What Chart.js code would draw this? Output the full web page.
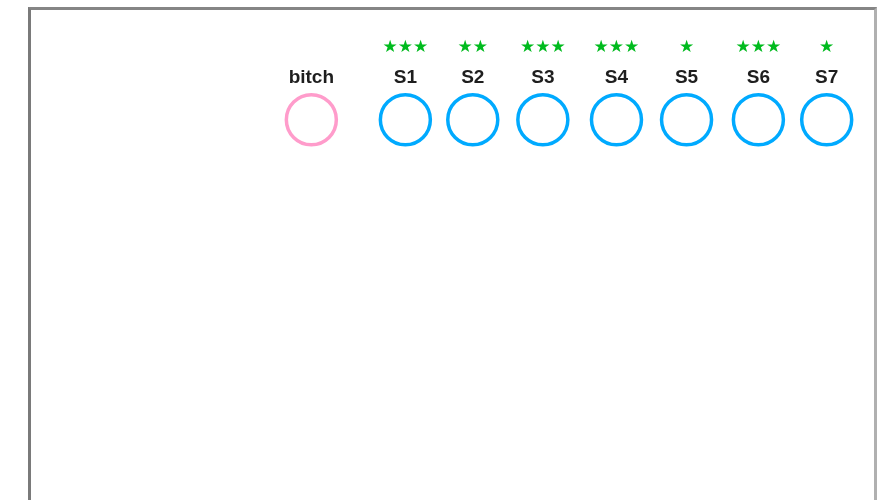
<!DOCTYPE html>
<html>
<head>
<meta charset="utf-8">
<script src="https://cdn.jsdelivr.net/npm/chart.js@4.4.1/dist/chart.umd.min.js"></script>
<style>
  html, body { margin: 0; padding: 0; background: #fff; }
  #wrap { position: relative; width: 887px; height: 500px; }
  #frame {
    position: absolute; left: 28px; top: 7px; width: 843px; height: 492px;
    border-left: 3px solid #7a7a7a; border-top: 3px solid #858585;
    border-right: 3px solid #b0b0b0; border-bottom: 1px solid #d0d0d0;
  }
  #myChart { position: absolute; left: 0; top: 0; }
</style>
</head>
<body>
<div id="wrap">
  <div id="frame"></div>
  <canvas id="myChart" width="887" height="500"></canvas>
</div>
<script>
// sample names, position along the row, significance marks
var sampleNames = ['bitch', 'S1', 'S2', 'S3', 'S4', 'S5', 'S6', 'S7'];
var samplePos = [35.1, 45.7, 53.3, 61.2, 69.5, 77.4, 85.5, 93.2];
var sampleRow = [1, 1, 1, 1, 1, 1, 1, 1];
var sampleStars = ['', '***', '**', '***', '***', '*', '***', '*'];
var isReference = [true, false, false, false, false, false, false, false];

var refColor = '#ff9ccb';
var sampleColor = '#00aaff';
var starColor = '#00bb1e';

var pointColors = isReference.map(function (r) { return r ? refColor : sampleColor; });

var labelPlugin = {
    id: 'labelPlugin',
    afterDatasetsDraw: function (chart) {
        var ctx = chart.ctx;
        var meta = chart.getDatasetMeta(0);
        ctx.save();
        ctx.textAlign = 'center';
        ctx.textBaseline = 'middle';
        meta.data.forEach(function (pt, i) {
            ctx.fillStyle = '#1e1e1e';
            ctx.font = 'bold 19px "Liberation Sans", Arial, sans-serif';
            ctx.fillText(sampleNames[i], pt.x, pt.y - 42);
            if (sampleStars[i]) {
                ctx.fillStyle = starColor;
                ctx.font = 'bold 17px "DejaVu Sans", sans-serif';
                ctx.fillText(sampleStars[i].replace(/\*/g, '\u2605'), pt.x, pt.y - 72);
            }
        });
        ctx.restore();
    }
};

new Chart('myChart', {
    type: 'scatter',
    data: {
        datasets: [{
            data: samplePos.map(function (x, i) { return { x: x, y: sampleRow[i] }; }),
            pointRadius: 25,
            pointHoverRadius: 25,
            borderWidth: 3.5,
            pointBorderWidth: 3.5,
            pointBorderColor: pointColors,
            pointBackgroundColor: 'rgba(255,255,255,0)'
        }]
    },
    options: {
        responsive: false,
        animation: false,
        events: [],
        layout: { padding: 0, autoPadding: false },
        plugins: {
            legend: { display: false },
            title: { display: false },
            tooltip: { enabled: false }
        },
        scales: {
            x: { type: 'linear', min: 0, max: 100, display: false },
            y: { type: 'linear', min: 0, max: 1.315, display: false }
        }
    },
    plugins: [labelPlugin]
});
</script>
</body>
</html>
